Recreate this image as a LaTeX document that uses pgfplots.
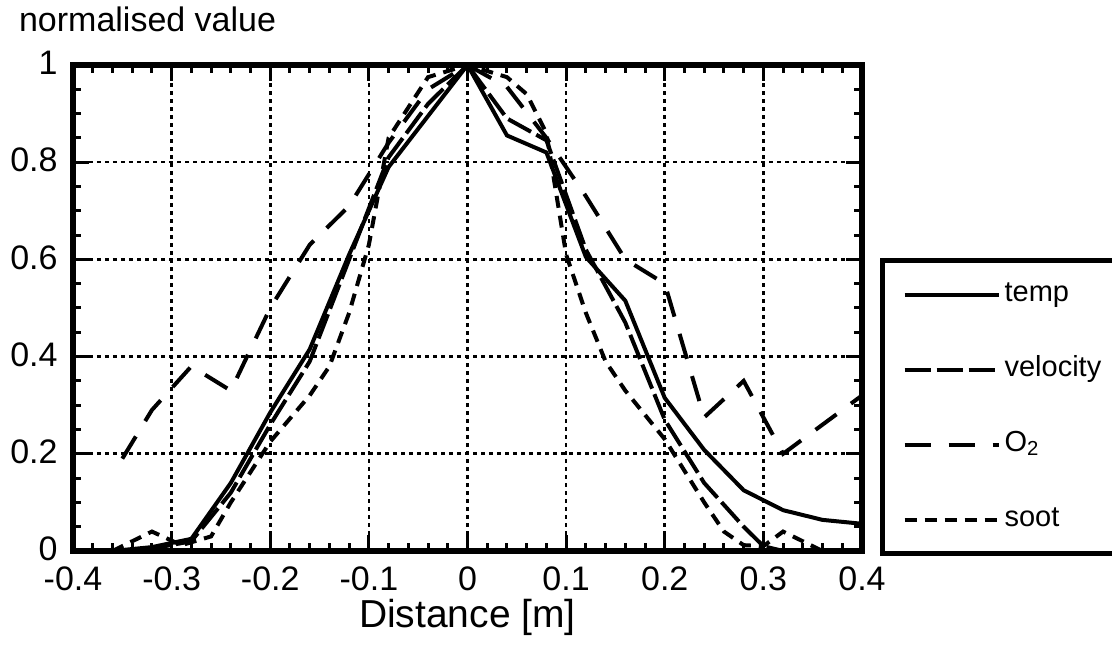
\documentclass[border=0pt]{standalone}
\usepackage{fontspec}
\setmainfont{Liberation Sans}
\usepackage{pgfplots}
\pgfplotsset{compat=1.18}

\begin{document}
\begin{tikzpicture}
\useasboundingbox (-36.5pt,-47.5pt) rectangle (519.5pt,275.5pt);
\begin{axis}[
    at={(0pt,0pt)}, anchor=south west,
    scale only axis,
    width=394.5pt, height=243pt,
    xmin=-0.4, xmax=0.4, ymin=0, ymax=1,
    xtick={-0.4,-0.3,-0.2,-0.1,0,0.1,0.2,0.3,0.4},
    ytick={0,0.2,0.4,0.6,0.8,1},
    minor x tick num=4, minor y tick num=3,
    grid=major,
    major grid style={black, line width=1.3pt, dash pattern=on 2pt off 2pt},
    axis line style={line width=3pt},
    major tick length=8pt, minor tick length=4pt,
    tick style={black, line width=1.5pt},
    tick label style={font=\fontsize{17}{17}\selectfont, inner sep=0pt},
    xticklabel style={anchor=north, yshift=-7.5pt},
    yticklabel style={anchor=east, xshift=-7.5pt, yshift=1pt},
    /pgf/number format/assume math mode=true,
    xlabel={Distance [m]},
    xlabel style={font=\fontsize{19.5}{19.5}\selectfont, inner sep=0pt,
        at={(axis description cs:0.5,0)}, anchor=base, yshift=-38.5pt},
    legend image code/.code={\draw[#1] (0pt,0pt) -- (47pt,0pt);},
    legend cell align=left,
    legend style={
        at={(1.0228,0.6029)}, anchor=north west,
        draw=black, line width=2.6pt,
        font=\fontsize{14.5}{14.5}\selectfont,
        inner xsep=10pt, inner ysep=8.5pt,
        row sep=20.5pt,
        nodes={text height=10pt, text depth=3pt}
    },
]

% temperature
\addplot[black, line width=2pt] coordinates {
    (-0.36,0) (-0.32,0.008) (-0.28,0.025) (-0.24,0.14) (-0.2,0.285)
    (-0.16,0.415) (-0.12,0.61) (-0.08,0.79) (-0.04,0.895) (0,1)
    (0.04,0.855) (0.08,0.82) (0.12,0.605) (0.16,0.515) (0.2,0.315)
    (0.24,0.208) (0.28,0.125) (0.32,0.084) (0.36,0.064) (0.4,0.056)
};
\addlegendentry{\makebox[70pt][l]{temp}}

% velocity
\addplot[black, line width=2pt, dash pattern=on 13pt off 3pt] coordinates {
    (-0.36,0) (-0.32,0.005) (-0.28,0.02) (-0.24,0.12) (-0.2,0.26)
    (-0.16,0.39) (-0.12,0.6) (-0.08,0.81) (-0.04,0.92) (0,1)
    (0.04,0.89) (0.08,0.845) (0.12,0.62) (0.16,0.47) (0.2,0.27)
    (0.24,0.14) (0.28,0.05) (0.3,0.01) (0.32,0)
};
\addlegendentry{velocity}

% oxygen
\addplot[black, line width=2pt, dash pattern=on 13pt off 9pt] coordinates {
    (-0.35,0.19) (-0.32,0.29) (-0.28,0.38) (-0.24,0.33) (-0.2,0.5)
    (-0.16,0.63) (-0.12,0.71) (-0.08,0.84) (-0.04,0.95) (0,1)
    (0.04,0.955) (0.08,0.85) (0.12,0.73) (0.16,0.6) (0.2,0.55)
    (0.24,0.275) (0.28,0.35) (0.32,0.2) (0.36,0.26) (0.4,0.32)
};
\addlegendentry{O\textsubscript{2}}

% soot
\addplot[black, line width=2pt, dash pattern=on 6pt off 4pt] coordinates {
    (-0.36,0) (-0.32,0.04) (-0.29,0.012) (-0.26,0.03) (-0.24,0.1)
    (-0.2,0.225) (-0.16,0.32) (-0.14,0.38) (-0.12,0.49) (-0.1,0.63)
    (-0.08,0.85) (-0.04,0.975) (0,1) (0.04,0.975) (0.06,0.94)
    (0.08,0.86) (0.1,0.61) (0.12,0.49) (0.14,0.39) (0.16,0.33)
    (0.2,0.23) (0.24,0.1) (0.26,0.04) (0.28,0.012) (0.3,0.01)
    (0.32,0.04) (0.36,0)
};
\addlegendentry{soot}

\end{axis}
\node[anchor=base west, font=\fontsize{17}{17}\selectfont] at (-30.5pt,259.5pt) {normalised value};
\end{tikzpicture}
\end{document}
